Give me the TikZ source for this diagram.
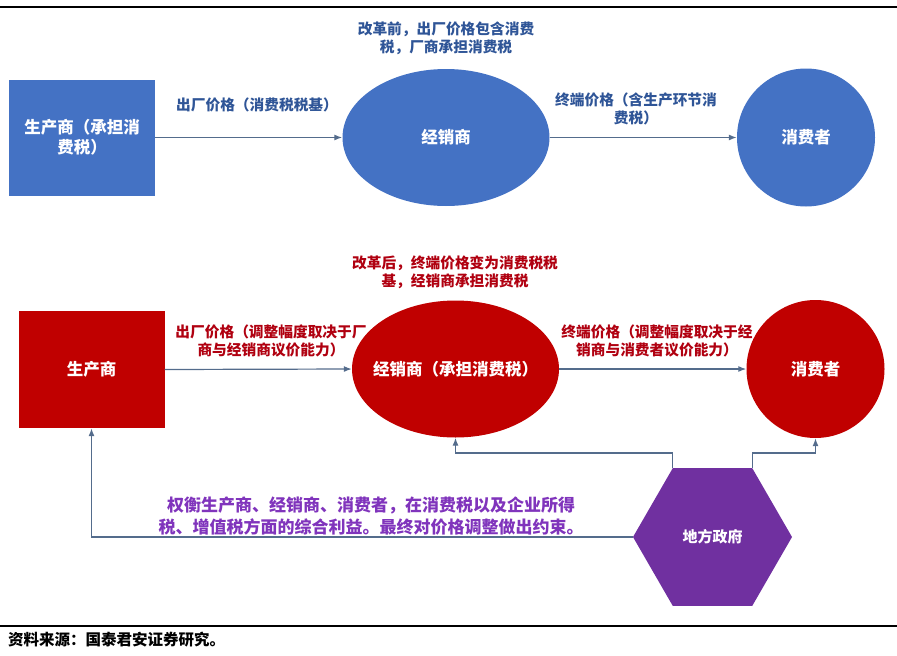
\documentclass[tikz,border=0pt]{standalone}
\usepackage{fontspec}
\setmainfont{Noto Sans CJK SC}
\usetikzlibrary{arrows.meta,shapes.geometric}
\definecolor{tblue}{RGB}{68,114,196}
\definecolor{tbluetext}{RGB}{47,85,151}
\definecolor{tred}{RGB}{192,0,0}
\definecolor{tredtext}{RGB}{176,0,16}
\definecolor{tpurple}{RGB}{112,48,160}
\definecolor{tpurpletext}{RGB}{128,52,188}
\definecolor{tline}{RGB}{84,108,140}

\begin{document}
\begin{tikzpicture}[x=1pt, y=-1pt,
    shapetext/.style={text=white, align=center, inner sep=0pt,
      font=\bfseries\fontsize{16.5}{20}\selectfont},
    firm/.style={shapetext, rectangle, fill=#1, minimum width=146pt, minimum height=116pt},
    dealer/.style={shapetext, ellipse, fill=#1, inner xsep=-30pt, minimum width=207pt, minimum height=137pt},
    buyer/.style={shapetext, circle, fill=#1, minimum size=138pt},
    note/.style={text=#1, align=center, font=\bfseries\fontsize{14.7}{18}\selectfont},
    flow/.style={draw=tline, line width=1.2pt, -{Latex[length=8pt,width=6pt]}}]
    \useasboundingbox (0,0) rectangle (897,656);
    \draw[line width=1.2pt] (0,7) -- (897,7);
    \draw[line width=1.2pt] (0,626) -- (897,626);

    % before the reform
    \node[firm=tblue] (prodA) at (82,137.5) {生产商（承担消\\费税）};
    \node[dealer=tblue] (dealA) at (446,137.5) {经销商};
    \node[buyer=tblue] (consA) at (806,137.5) {消费者};
    \draw[flow] (prodA.east) -- (dealA.west);
    \draw[flow] (dealA.east) -- (consA.west);
    \node[note=tbluetext] (topA) at (446,38) {改革前，出厂价格包含消费\\税，厂商承担消费税};
    \node[note=tbluetext] (lblA1) at (257,105) {出厂价格（消费税税基）};
    \node[note=tbluetext] (lblA2) at (636,108.5) {终端价格（含生产环节消\\费税）};

    % after the reform
    \node[firm=tred, minimum height=117pt] (prodB) at (91.5,369.5) {生产商};
    \node[dealer=tred] (dealB) at (455.5,369) {经销商（承担消费税）};
    \node[buyer=tred] (consB) at (815.5,369) {消费者};
    \draw[flow] (prodB.east) -- (dealB.west);
    \draw[flow] (dealB.east) -- (consB.west);
    \node[note=tredtext] (topB) at (455,272) {改革后，终端价格变为消费税税\\基，经销商承担消费税};
    \node[note=tredtext] (lblB1) at (271,341) {出厂价格（调整幅度取决于厂\\商与经销商议价能力）};
    \node[note=tredtext] (lblB2) at (657,341) {终端价格（调整幅度取决于经\\销商与消费者议价能力）};

    % local government
    \node[shapetext, regular polygon, regular polygon sides=6, fill=tpurple,
      minimum size=159pt, font=\bfseries\fontsize{15}{18}\selectfont] (gov) at (712.5,537) {地方政府};
    \draw[flow] (gov.corner 2) -- ++(0,-15) -| (dealB.south);
    \draw[flow] (gov.corner 1) -- ++(0,-15) -| (consB.south);
    \draw[flow] (gov.corner 3) -| (prodB.south);
    \node[text=tpurpletext, align=center, font=\bfseries\fontsize{17}{22}\selectfont] (govnote) at (371,516)
      {权衡生产商、经销商、消费者，在消费税以及企业所得\\税、增值税方面的综合利益。最终对价格调整做出约束。};

    \node[anchor=west, inner sep=0pt, font=\bfseries\fontsize{15.5}{18}\selectfont] (src) at (8,640) {资料来源：国泰君安证券研究。};
  \end{tikzpicture}
\end{document}
